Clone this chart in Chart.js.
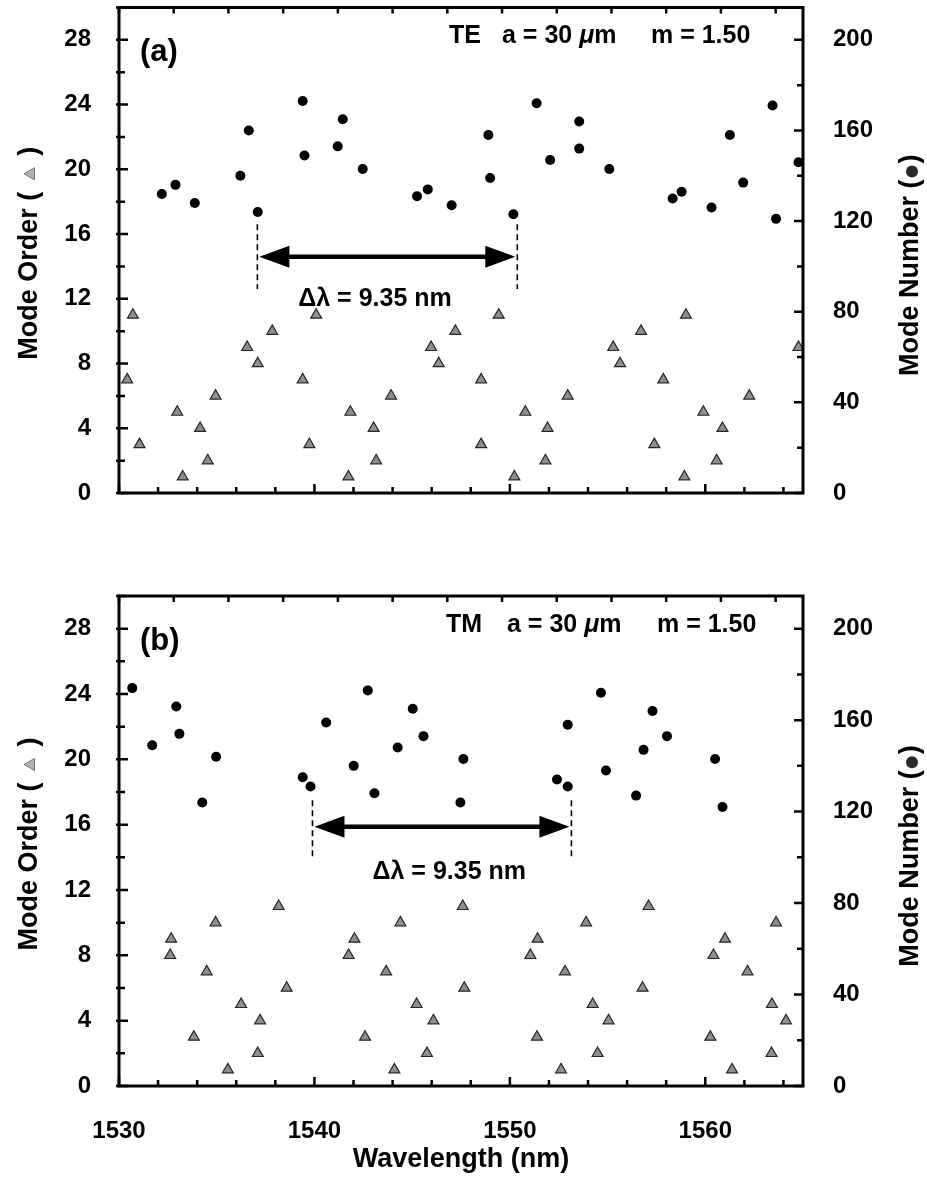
<!DOCTYPE html>
<html>
<head>
<meta charset="utf-8">
<script src="https://cdn.jsdelivr.net/npm/chart.js@4.4.1/dist/chart.umd.min.js"></script>
<style>
  body { margin: 0; background: #fff; }
  canvas { position: absolute; left: 0; }
  #chartA { top: 0; }
  #chartB { top: 545px; }
</style>
</head>
<body>
<canvas id="chartA" width="927" height="540"></canvas>
<canvas id="chartB" width="927" height="633"></canvas>
<script>
// --- DATA ---
// (a) TE : mode number (circles, right axis) and mode order (triangles, left axis)
const teCircleWl = [1532.19, 1532.89, 1533.88, 1536.21, 1536.64, 1537.10, 1539.40, 1539.49, 1541.19, 1541.45,
                    1542.47, 1545.25, 1545.80, 1547.02, 1548.90, 1548.99, 1550.18, 1551.37, 1552.06, 1553.55,
                    1553.55, 1555.09, 1558.33, 1558.79, 1560.32, 1561.26, 1561.94, 1563.44, 1563.62, 1564.77];
const teCircleNum = [132, 136, 128, 140, 160, 124, 173, 149, 153, 165,
                     143, 131, 134, 127, 158, 139, 123, 172, 147, 164,
                     152, 143, 130, 133, 126, 158, 137, 171, 121, 146];
const teTriWl = [1530.42, 1530.71, 1531.05, 1532.98, 1533.26, 1534.15, 1534.54, 1534.94, 1536.56, 1537.10,
                 1537.84, 1539.40, 1539.74, 1540.09, 1541.74, 1541.84, 1543.03, 1543.16, 1543.92, 1545.97,
                 1546.36, 1547.21, 1548.53, 1548.53, 1549.43, 1550.23, 1550.79, 1551.82, 1551.93, 1552.96,
                 1555.29, 1555.64, 1556.71, 1557.85, 1557.39, 1559.01, 1558.93, 1559.90, 1560.58, 1560.88,
                 1562.25, 1564.77];
const teTriOrder = [7, 11, 3, 5, 1, 4, 2, 6, 9, 8,
                    10, 7, 3, 11, 1, 5, 4, 2, 6, 9,
                    8, 10, 7, 3, 11, 1, 5, 2, 4, 6,
                    9, 8, 10, 7, 3, 11, 1, 5, 2, 4,
                    6, 9];

// (b) TM
const tmCircleWl = [1530.68, 1531.70, 1532.93, 1533.09, 1534.26, 1534.97, 1539.40, 1539.80, 1540.60, 1542.01,
                    1542.73, 1543.07, 1544.26, 1545.03, 1545.58, 1547.47, 1547.62, 1552.41, 1552.96, 1552.96,
                    1554.66, 1554.92, 1556.46, 1556.84, 1557.30, 1558.04, 1560.50, 1560.88];
const tmCircleNum = [174, 149, 166, 154, 124, 144, 135, 131, 159, 140,
                     173, 128, 148, 165, 153, 124, 143, 134, 131, 158,
                     172, 138, 127, 147, 164, 153, 143, 122];
const tmTriWl = [1532.62, 1532.67, 1533.83, 1534.49, 1534.94, 1535.57, 1536.25, 1537.10, 1537.22, 1538.17,
                 1538.58, 1541.75, 1542.05, 1542.59, 1543.67, 1544.09, 1544.40, 1545.23, 1545.76, 1546.09,
                 1547.59, 1547.67, 1551.05, 1551.42, 1551.39, 1552.62, 1552.82, 1553.90, 1554.24, 1554.49,
                 1555.05, 1556.79, 1557.10, 1560.26, 1560.42, 1561.01, 1561.37, 1562.16, 1563.41, 1563.39,
                 1563.62, 1564.13];
const tmTriOrder = [8, 9, 3, 7, 10, 1, 5, 2, 4, 11,
                    6, 8, 9, 3, 7, 1, 10, 5, 2, 4,
                    11, 6, 8, 9, 3, 1, 7, 10, 5, 2,
                    4, 6, 11, 3, 8, 9, 1, 7, 5, 2,
                    10, 4];

const wlMin = 1530, wlMax = 1565;
const orderMax = 30;
const numMax = orderMax * 200 / 28;   // right axis: 200 sits level with 28

const FONT = '"Liberation Sans", Arial, sans-serif';
const TRI_FILL = '#8e8e8e';
const TRI_EDGE = '#262626';

// --- inward tick marks + frame ---
const frameTicks = {
    id: 'frameTicks',
    afterDraw(chart) {
        const { ctx, chartArea: a, scales } = chart;
        ctx.save();
        ctx.strokeStyle = '#000';
        ctx.lineWidth = 2.5;
        ctx.beginPath();
        scales.x.ticks.forEach(t => {
            const px = scales.x.getPixelForValue(t.value);
            const len = t.value % 10 === 0 ? 9 : 6;
            ctx.moveTo(px, a.bottom); ctx.lineTo(px, a.bottom - len);
        });
        scales.x2.ticks.forEach(t => {
            const px = scales.x2.getPixelForValue(t.value);
            ctx.moveTo(px, a.top); ctx.lineTo(px, a.top + 6);
        });
        scales.y.ticks.forEach(t => {
            const py = scales.y.getPixelForValue(t.value);
            const len = t.value % 4 === 0 ? 9 : 6;
            ctx.moveTo(a.left - 3, py); ctx.lineTo(a.left + len, py);
        });
        scales.y2.ticks.forEach(t => {
            const py = scales.y2.getPixelForValue(t.value);
            const len = t.value % 40 === 0 ? 9 : 6;
            ctx.moveTo(a.right, py); ctx.lineTo(a.right - len, py);
        });
        ctx.stroke();
        ctx.lineWidth = 3;
        ctx.strokeRect(a.left, a.top, a.right - a.left, a.bottom - a.top);
        ctx.restore();
    }
};

function drawTriangle(ctx, x, y, r) {
    ctx.beginPath();
    ctx.moveTo(x, y - r);
    ctx.lineTo(x + r * 0.866, y + r * 0.5);
    ctx.lineTo(x - r * 0.866, y + r * 0.5);
    ctx.closePath();
    ctx.fillStyle = '#b0b0b0';
    ctx.fill();
    ctx.strokeStyle = '#777';
    ctx.lineWidth = 1;
    ctx.stroke();
}

function drawVTitle(ctx, cx, cy, before, marker, after, mw) {
    ctx.save();
    ctx.translate(cx, cy);
    ctx.rotate(-Math.PI / 2);
    ctx.font = 'bold 27px ' + FONT;
    ctx.textBaseline = 'middle';
    ctx.textAlign = 'left';
    const w1 = ctx.measureText(before).width;
    const w2 = ctx.measureText(after).width;
    let x = -(w1 + mw + w2) / 2;
    ctx.fillStyle = '#000';
    ctx.fillText(before, x, 0);
    const mx = x + w1 + mw / 2;
    if (marker === 'tri') {
        drawTriangle(ctx, mx, 1, 7);
    } else {
        ctx.beginPath();
        ctx.arc(mx, 1, 6, 0, Math.PI * 2);
        ctx.fillStyle = '#2a2a2a';
        ctx.fill();
    }
    ctx.fillStyle = '#000';
    ctx.fillText(after, x + w1 + mw, 0);
    ctx.restore();
}

// --- annotations: panel label, header, Δλ arrow, axis titles ---
const notes = {
    id: 'notes',
    afterDraw(chart, args, o) {
        const { ctx, chartArea: a, scales } = chart;
        const X = v => scales.x.getPixelForValue(v);
        const Y = v => scales.y.getPixelForValue(v);
        ctx.save();
        ctx.fillStyle = '#000';
        ctx.textBaseline = 'middle';

        ctx.font = 'bold 31px ' + FONT;
        ctx.textAlign = 'left';
        ctx.fillText(o.label, a.left + 21, a.top + 45);

        // header "TE   a = 30 μm   m = 1.50"
        const hy = a.top + 29;
        ctx.font = 'bold 25px ' + FONT;
        ctx.fillText(o.mode, o.hx[0], hy);
        let x = o.hx[1];
        ctx.fillText('a = 30 ', x, hy);
        x += ctx.measureText('a = 30 ').width;
        ctx.font = 'italic bold 25px ' + FONT;
        ctx.fillText('\u03bc', x, hy);
        x += ctx.measureText('\u03bc').width;
        ctx.font = 'bold 25px ' + FONT;
        ctx.fillText('m', x, hy);
        ctx.fillText('m = 1.50', o.hx[2], hy);

        // dashed markers
        ctx.strokeStyle = '#000';
        ctx.lineWidth = 1.6;
        ctx.setLineDash([6, 4]);
        ctx.beginPath();
        [o.arrowFrom, o.arrowTo].forEach(wl => {
            ctx.moveTo(X(wl), Y(o.dashTop));
            ctx.lineTo(X(wl), Y(o.dashBottom));
        });
        ctx.stroke();
        ctx.setLineDash([]);

        // double arrow
        const x1 = X(o.arrowFrom) + 2, x2 = X(o.arrowTo) - 2, ay = Y(o.arrowY);
        const hl = 30, hh = 11;
        ctx.lineWidth = 4.5;
        ctx.beginPath();
        ctx.moveTo(x1 + hl - 2, ay); ctx.lineTo(x2 - hl + 2, ay);
        ctx.stroke();
        ctx.beginPath();
        ctx.moveTo(x1, ay); ctx.lineTo(x1 + hl, ay - hh); ctx.lineTo(x1 + hl, ay + hh); ctx.closePath();
        ctx.moveTo(x2, ay); ctx.lineTo(x2 - hl, ay - hh); ctx.lineTo(x2 - hl, ay + hh); ctx.closePath();
        ctx.fill();

        ctx.font = 'bold 25px ' + FONT;
        ctx.textAlign = 'center';
        ctx.fillText('\u0394\u03bb = 9.35 nm', X(o.textWl), Y(o.textY));
        ctx.restore();

        const cy = (a.top + a.bottom) / 2;
        drawVTitle(ctx, 30, cy + 3, 'Mode Order (', 'tri', ')', 36);
        drawVTitle(ctx, 911, cy + 15, 'Mode Number (', 'dot', ')', 16);
    }
};

function buildChart(id, p) {
    const tickFont = { family: FONT, size: 24, weight: 'bold' };
    const noPad = s => { s.paddingTop = 0; s.paddingBottom = 0; };
    return new Chart(document.getElementById(id), {
        type: 'scatter',
        data: {
            datasets: [
                {
                    label: 'Mode Order',
                    data: p.triWl.map((x, i) => ({ x, y: p.triOrder[i] })),
                    yAxisID: 'y',
                    pointStyle: 'triangle',
                    pointRadius: 6.3,
                    backgroundColor: TRI_FILL,
                    borderColor: TRI_EDGE,
                    borderWidth: 1.2,
                    clip: 0
                },
                {
                    label: 'Mode Number',
                    data: p.circleWl.map((x, i) => ({ x, y: p.circleNum[i] })),
                    yAxisID: 'y2',
                    pointStyle: 'circle',
                    pointRadius: 5,
                    backgroundColor: '#000',
                    borderColor: '#000',
                    borderWidth: 0,
                    clip: 0
                }
            ]
        },
        options: {
            responsive: false,
            animation: false,
            layout: { padding: 0 },
            plugins: { legend: { display: false }, tooltip: { enabled: false }, notes: p.notes },
            scales: {
                x: {
                    type: 'linear', position: 'bottom', min: wlMin, max: wlMax,
                    afterFit: s => { s.height = p.bottomH; s.paddingLeft = 0; s.paddingRight = 0; },
                    grid: { display: false, drawTicks: false }, border: { display: false },
                    ticks: {
                        stepSize: 2, includeBounds: false, autoSkip: false, maxRotation: 0,
                        padding: 31, color: '#000', font: tickFont,
                        callback: v => (p.showX && v % 10 === 0) ? String(v) : ''
                    },
                    title: {
                        display: p.showX, text: 'Wavelength (nm)', color: '#000',
                        font: { family: FONT, size: 27, weight: 'bold' },
                        padding: { top: 0, bottom: 2 }
                    }
                },
                x2: {
                    type: 'linear', position: 'top', min: 0, max: 12.5,
                    afterFit: s => { s.height = p.topH; s.paddingLeft = 0; s.paddingRight = 0; },
                    grid: { display: false, drawTicks: false }, border: { display: false },
                    ticks: { stepSize: 1, includeBounds: false, callback: () => '' }
                },
                y: {
                    type: 'linear', position: 'left', min: 0, max: orderMax,
                    afterFit: s => { s.width = 119; noPad(s); },
                    grid: { display: false, drawTicks: false }, border: { display: false },
                    ticks: {
                        stepSize: 2, includeBounds: false, autoSkip: false, padding: 28,
                        color: '#000', font: tickFont,
                        callback: v => v % 4 === 0 ? String(v) : ''
                    }
                },
                y2: {
                    type: 'linear', position: 'right', min: 0, max: numMax,
                    afterFit: s => { s.width = 124; noPad(s); },
                    grid: { display: false, drawTicks: false }, border: { display: false },
                    ticks: {
                        stepSize: 20, includeBounds: false, autoSkip: false, padding: 30,
                        color: '#000', font: tickFont,
                        callback: v => v % 40 === 0 ? String(v) : ''
                    }
                }
            }
        },
        plugins: [frameTicks, notes]
    });
}

buildChart('chartA', {
    circleWl: teCircleWl, circleNum: teCircleNum, triWl: teTriWl, triOrder: teTriOrder,
    topH: 5, bottomH: 47, showX: false,
    notes: {
        label: '(a)', mode: 'TE', hx: [449, 502, 651],
        arrowFrom: 1537.08, arrowTo: 1550.38, arrowY: 14.6, dashTop: 16.6, dashBottom: 12.6,
        textWl: 1543.1, textY: 11.95
    }
});

buildChart('chartB', {
    circleWl: tmCircleWl, circleNum: tmCircleNum, triWl: tmTriWl, triOrder: tmTriOrder,
    topH: 51, bottomH: 92, showX: true,
    notes: {
        label: '(b)', mode: 'TM', hx: [446, 507, 657],
        arrowFrom: 1539.9, arrowTo: 1553.15, arrowY: 15.87, dashTop: 17.5, dashBottom: 13.85,
        textWl: 1546.9, textY: 13.1
    }
});
</script>
</body>
</html>
